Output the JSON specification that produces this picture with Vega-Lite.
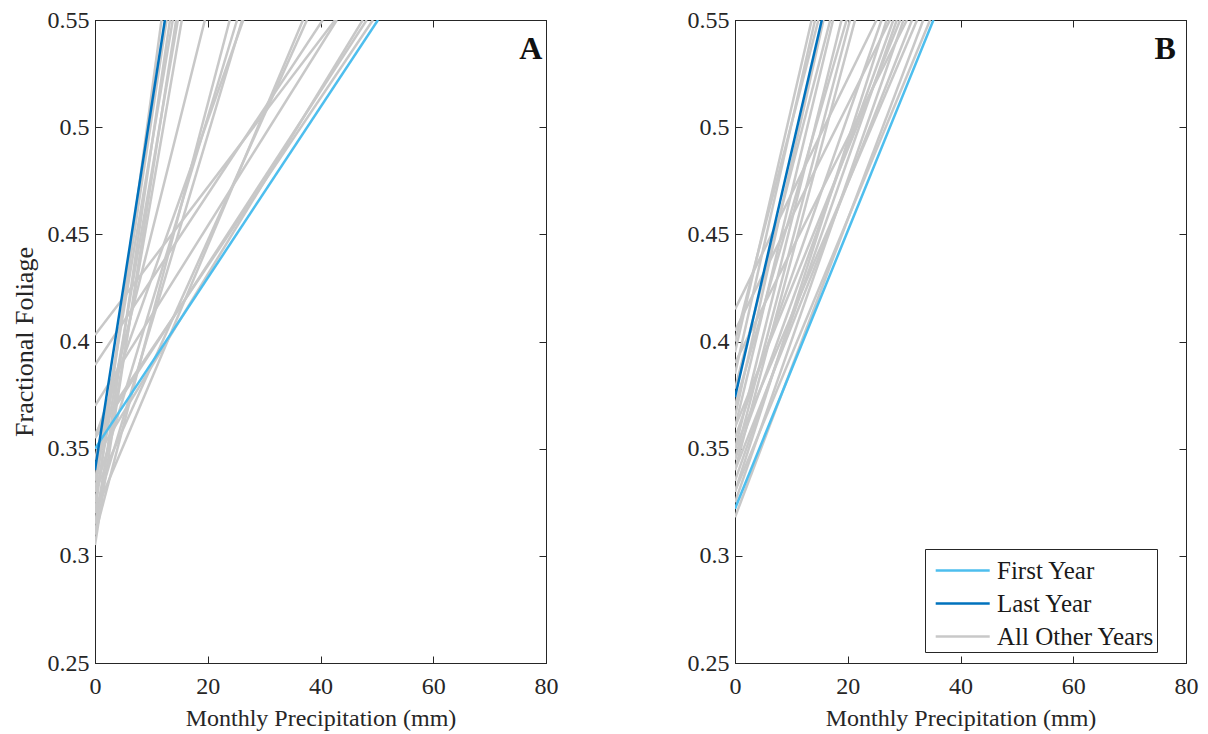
{
  "$schema": "https://vega.github.io/schema/vega-lite/v6.json",
  "padding": {"left": 10, "top": 7, "right": 5, "bottom": 5},
  "background": "white",
  "config": {
    "font": "Liberation Serif",
    "view": {"stroke": "#262626", "strokeWidth": 1},
    "axis": {"grid": false, "domainColor": "#262626", "tickColor": "#262626", "tickSize": -7, "labelFont": "Liberation Serif", "labelFontSize": 24, "labelColor": "#262626", "titleFont": "Liberation Serif", "titleFontSize": 24, "titleFontWeight": "normal", "titleColor": "#262626"},
    "axisX": {"labelPadding": 18, "titlePadding": 8, "labelFlush": false},
    "axisY": {"labelPadding": 13, "titlePadding": 10, "titleFontSize": 26, "labelFlush": false}
  },
  "datasets": {
    "A": [
      {"id": "a1", "series": "All Other Years", "x": 0, "y": 0.32}, {"id": "a1", "series": "All Other Years", "x": 11.8, "y": 0.55},
      {"id": "a2", "series": "All Other Years", "x": 0, "y": 0.33}, {"id": "a2", "series": "All Other Years", "x": 12.7, "y": 0.55},
      {"id": "a3", "series": "All Other Years", "x": 0, "y": 0.31}, {"id": "a3", "series": "All Other Years", "x": 13.3, "y": 0.55},
      {"id": "a4", "series": "All Other Years", "x": 0, "y": 0.335}, {"id": "a4", "series": "All Other Years", "x": 13.8, "y": 0.55},
      {"id": "a5", "series": "All Other Years", "x": 0, "y": 0.305}, {"id": "a5", "series": "All Other Years", "x": 14.4, "y": 0.55},
      {"id": "a6", "series": "All Other Years", "x": 0, "y": 0.325}, {"id": "a6", "series": "All Other Years", "x": 14.7, "y": 0.55},
      {"id": "a7", "series": "All Other Years", "x": 0, "y": 0.315}, {"id": "a7", "series": "All Other Years", "x": 15.4, "y": 0.55},
      {"id": "a8", "series": "All Other Years", "x": 0, "y": 0.345}, {"id": "a8", "series": "All Other Years", "x": 19.5, "y": 0.55},
      {"id": "a9", "series": "All Other Years", "x": 0, "y": 0.31}, {"id": "a9", "series": "All Other Years", "x": 23.9, "y": 0.55},
      {"id": "a10", "series": "All Other Years", "x": 0, "y": 0.33}, {"id": "a10", "series": "All Other Years", "x": 25.2, "y": 0.55},
      {"id": "a11", "series": "All Other Years", "x": 0, "y": 0.32}, {"id": "a11", "series": "All Other Years", "x": 26.1, "y": 0.55},
      {"id": "a12", "series": "All Other Years", "x": 0, "y": 0.355}, {"id": "a12", "series": "All Other Years", "x": 26.3, "y": 0.55},
      {"id": "a13", "series": "All Other Years", "x": 0, "y": 0.32}, {"id": "a13", "series": "All Other Years", "x": 36.9, "y": 0.55},
      {"id": "a14", "series": "All Other Years", "x": 0, "y": 0.33}, {"id": "a14", "series": "All Other Years", "x": 37.6, "y": 0.55},
      {"id": "a15", "series": "All Other Years", "x": 0, "y": 0.389}, {"id": "a15", "series": "All Other Years", "x": 40.4, "y": 0.55},
      {"id": "a16", "series": "All Other Years", "x": 0, "y": 0.403}, {"id": "a16", "series": "All Other Years", "x": 42.6, "y": 0.55},
      {"id": "a17", "series": "All Other Years", "x": 0, "y": 0.37}, {"id": "a17", "series": "All Other Years", "x": 42.9, "y": 0.55},
      {"id": "a18", "series": "All Other Years", "x": 0, "y": 0.345}, {"id": "a18", "series": "All Other Years", "x": 47.5, "y": 0.55},
      {"id": "a19", "series": "All Other Years", "x": 0, "y": 0.355}, {"id": "a19", "series": "All Other Years", "x": 48.2, "y": 0.55},
      {"id": "a20", "series": "All Other Years", "x": 0, "y": 0.357}, {"id": "a20", "series": "All Other Years", "x": 49.3, "y": 0.55},
      {"id": "aF", "series": "First Year", "x": 0, "y": 0.35}, {"id": "aF", "series": "First Year", "x": 50.2, "y": 0.55},
      {"id": "aL", "series": "Last Year", "x": 0, "y": 0.34}, {"id": "aL", "series": "Last Year", "x": 12.4, "y": 0.55}
    ],
    "B": [
      {"id": "b1", "series": "All Other Years", "x": 0, "y": 0.395}, {"id": "b1", "series": "All Other Years", "x": 13.6, "y": 0.55},
      {"id": "b2", "series": "All Other Years", "x": 0, "y": 0.385}, {"id": "b2", "series": "All Other Years", "x": 14.2, "y": 0.55},
      {"id": "b3", "series": "All Other Years", "x": 0, "y": 0.4}, {"id": "b3", "series": "All Other Years", "x": 14.8, "y": 0.55},
      {"id": "b4", "series": "All Other Years", "x": 0, "y": 0.365}, {"id": "b4", "series": "All Other Years", "x": 15.7, "y": 0.55},
      {"id": "b5", "series": "All Other Years", "x": 0, "y": 0.378}, {"id": "b5", "series": "All Other Years", "x": 16.9, "y": 0.55},
      {"id": "b6", "series": "All Other Years", "x": 0, "y": 0.36}, {"id": "b6", "series": "All Other Years", "x": 17.4, "y": 0.55},
      {"id": "b7", "series": "All Other Years", "x": 0, "y": 0.35}, {"id": "b7", "series": "All Other Years", "x": 18.9, "y": 0.55},
      {"id": "b8", "series": "All Other Years", "x": 0, "y": 0.37}, {"id": "b8", "series": "All Other Years", "x": 19.8, "y": 0.55},
      {"id": "b9", "series": "All Other Years", "x": 0, "y": 0.345}, {"id": "b9", "series": "All Other Years", "x": 20.4, "y": 0.55},
      {"id": "b10", "series": "All Other Years", "x": 0, "y": 0.34}, {"id": "b10", "series": "All Other Years", "x": 21.3, "y": 0.55},
      {"id": "b11", "series": "All Other Years", "x": 0, "y": 0.415}, {"id": "b11", "series": "All Other Years", "x": 25.1, "y": 0.55},
      {"id": "b12", "series": "All Other Years", "x": 0, "y": 0.355}, {"id": "b12", "series": "All Other Years", "x": 26.0, "y": 0.55},
      {"id": "b13", "series": "All Other Years", "x": 0, "y": 0.33}, {"id": "b13", "series": "All Other Years", "x": 26.9, "y": 0.55},
      {"id": "b14", "series": "All Other Years", "x": 0, "y": 0.405}, {"id": "b14", "series": "All Other Years", "x": 27.5, "y": 0.55},
      {"id": "b15", "series": "All Other Years", "x": 0, "y": 0.345}, {"id": "b15", "series": "All Other Years", "x": 28.1, "y": 0.55},
      {"id": "b16", "series": "All Other Years", "x": 0, "y": 0.335}, {"id": "b16", "series": "All Other Years", "x": 28.7, "y": 0.55},
      {"id": "b17", "series": "All Other Years", "x": 0, "y": 0.36}, {"id": "b17", "series": "All Other Years", "x": 29.3, "y": 0.55},
      {"id": "b18", "series": "All Other Years", "x": 0, "y": 0.325}, {"id": "b18", "series": "All Other Years", "x": 29.9, "y": 0.55},
      {"id": "b19", "series": "All Other Years", "x": 0, "y": 0.39}, {"id": "b19", "series": "All Other Years", "x": 30.5, "y": 0.55},
      {"id": "b20", "series": "All Other Years", "x": 0, "y": 0.34}, {"id": "b20", "series": "All Other Years", "x": 31.4, "y": 0.55},
      {"id": "b21", "series": "All Other Years", "x": 0, "y": 0.35}, {"id": "b21", "series": "All Other Years", "x": 32.3, "y": 0.55},
      {"id": "b22", "series": "All Other Years", "x": 0, "y": 0.318}, {"id": "b22", "series": "All Other Years", "x": 33.4, "y": 0.55},
      {"id": "b23", "series": "All Other Years", "x": 0, "y": 0.33}, {"id": "b23", "series": "All Other Years", "x": 34.6, "y": 0.55},
      {"id": "bF", "series": "First Year", "x": 0, "y": 0.322}, {"id": "bF", "series": "First Year", "x": 35.2, "y": 0.55},
      {"id": "bL", "series": "Last Year", "x": 0, "y": 0.374}, {"id": "bL", "series": "Last Year", "x": 15.4, "y": 0.55}
    ],
    "labA": [{"label": "A", "x": 77.3, "y": 0.5365}],
    "labB": [{"label": "B", "x": 76.3, "y": 0.5365}]
  },
  "bounds": "flush",
  "spacing": 189,
  "resolve": {"scale": {"color": "independent", "strokeWidth": "independent"}},
  "hconcat": [
    {
      "width": 451,
      "height": 643,
      "layer": [
        {
          "data": {"name": "A"},
          "mark": {"type": "line", "clip": true},
          "encoding": {
            "x": {"field": "x", "type": "quantitative", "scale": {"domain": [0, 80], "nice": false, "zero": false}, "axis": {"orient": "bottom", "values": [0, 20, 40, 60, 80], "format": "d", "title": "Monthly Precipitation (mm)"}},
            "y": {"field": "y", "type": "quantitative", "scale": {"domain": [0.25, 0.55], "nice": false, "zero": false}, "axis": {"orient": "left", "values": [0.25, 0.3, 0.35, 0.4, 0.45, 0.5, 0.55], "format": "~g", "title": "Fractional Foliage"}},
            "detail": {"field": "id"},
            "color": {"field": "series", "type": "nominal", "scale": {"domain": ["First Year", "Last Year", "All Other Years"], "range": ["#4DBEEE", "#0072BD", "#c8c8c8"]}, "legend": null},
            "strokeWidth": {"field": "series", "type": "ordinal", "scale": {"domain": ["First Year", "Last Year", "All Other Years"], "range": [2.5, 2.5, 1.0]}, "legend": null}
          }
        },
        {
          "data": {"name": "labA"},
          "mark": {"type": "text", "font": "Liberation Serif", "fontWeight": "bold", "fontSize": 32, "align": "center", "baseline": "middle", "color": "#111111"},
          "encoding": {
            "x": {"field": "x", "type": "quantitative", "scale": {"domain": [0, 80], "nice": false, "zero": false}, "axis": {"orient": "top", "values": [0, 20, 40, 60, 80], "labels": false, "title": null}},
            "y": {"field": "y", "type": "quantitative", "scale": {"domain": [0.25, 0.55], "nice": false, "zero": false}, "axis": {"orient": "right", "values": [0.25, 0.3, 0.35, 0.4, 0.45, 0.5, 0.55], "labels": false, "title": null}},
            "text": {"field": "label"}
          }
        }
      ]
    },
    {
      "width": 451,
      "height": 643,
      "layer": [
        {
          "data": {"name": "B"},
          "mark": {"type": "line", "clip": true},
          "encoding": {
            "x": {"field": "x", "type": "quantitative", "scale": {"domain": [0, 80], "nice": false, "zero": false}, "axis": {"orient": "bottom", "values": [0, 20, 40, 60, 80], "format": "d", "title": "Monthly Precipitation (mm)"}},
            "y": {"field": "y", "type": "quantitative", "scale": {"domain": [0.25, 0.55], "nice": false, "zero": false}, "axis": {"orient": "left", "values": [0.25, 0.3, 0.35, 0.4, 0.45, 0.5, 0.55], "format": "~g", "title": null}},
            "detail": {"field": "id"},
            "color": {"field": "series", "type": "nominal", "scale": {"domain": ["First Year", "Last Year", "All Other Years"], "range": ["#4DBEEE", "#0072BD", "#c8c8c8"]},
              "legend": {"orient": "none", "legendX": 190, "legendY": 529, "title": null, "strokeColor": "#262626", "fillColor": "#ffffff", "padding": 2, "symbolType": "M-0.6,0H2.4", "symbolSize": 1296, "labelFont": "Liberation Serif", "labelFontSize": 25, "labelColor": "#1a1a1a", "rowPadding": 0, "labelOffset": 31,
                "encode": {"symbols": {"update": {"strokeWidth": [{"test": "datum.label === 'All Other Years'", "value": 1.1}, {"value": 2.5}]}}}}},
            "strokeWidth": {"field": "series", "type": "ordinal", "scale": {"domain": ["First Year", "Last Year", "All Other Years"], "range": [2.5, 2.5, 1.0]}, "legend": null}
          }
        },
        {
          "data": {"name": "labB"},
          "mark": {"type": "text", "font": "Liberation Serif", "fontWeight": "bold", "fontSize": 32, "align": "center", "baseline": "middle", "color": "#111111"},
          "encoding": {
            "x": {"field": "x", "type": "quantitative", "scale": {"domain": [0, 80], "nice": false, "zero": false}, "axis": {"orient": "top", "values": [0, 20, 40, 60, 80], "labels": false, "title": null}},
            "y": {"field": "y", "type": "quantitative", "scale": {"domain": [0.25, 0.55], "nice": false, "zero": false}, "axis": {"orient": "right", "values": [0.25, 0.3, 0.35, 0.4, 0.45, 0.5, 0.55], "labels": false, "title": null}},
            "text": {"field": "label"}
          }
        }
      ]
    }
  ]
}
